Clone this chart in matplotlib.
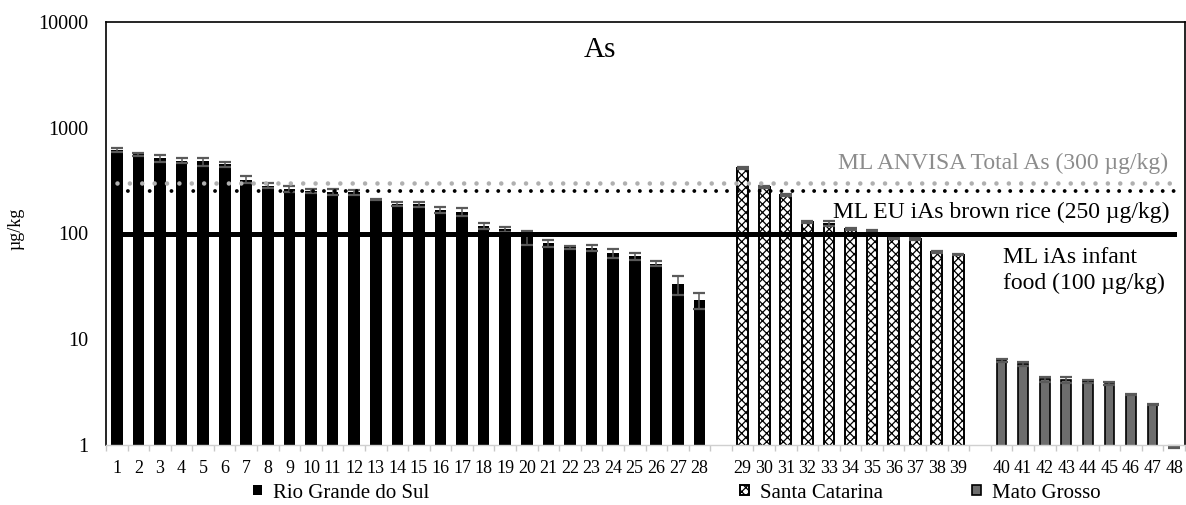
import numpy as np
import matplotlib.pyplot as plt

plt.rcParams['font.family'] = ['Liberation Serif', 'DejaVu Serif']
plt.rcParams['hatch.linewidth'] = 0.9

# Total As per sample (µg/kg), mean and standard deviation
rs_mean = [617, 561, 514, 490, 480, 450, 324, 283, 265, 253, 247, 245, 210, 190,
           190, 167, 161, 118, 110, 92, 81, 74, 73, 65, 61, 52, 33, 23.4]
rs_err = [27, 20, 39, 27, 42, 25, 26, 15, 18, 10, 15, 13, 3, 8,
          10, 12, 14, 8, 6, 14, 6, 3, 5, 6, 5, 3, 7, 4]
sc_mean = [415, 275, 230, 128, 124, 110, 105, 90, 89, 67, 63]
sc_err = [8, 5, 5, 3, 7, 2, 2, 2, 2, 1, 1]
mg_mean = [6.3, 5.8, 4.2, 4.1, 4.0, 3.8, 3.0, 2.4, 0.95]
mg_err = [0.15, 0.27, 0.23, 0.27, 0.15, 0.1, 0.05, 0.03, 0.02]

rs_ids = [str(i) for i in range(1, 29)]
sc_ids = [str(i) for i in range(29, 40)]
mg_ids = [str(i) for i in range(40, 49)]

# maximum limits (µg/kg)
ml_anvisa = 300
ml_eu = 250
ml_infant = 100

# category slots, one empty slot between the states
x_rs = np.arange(len(rs_mean)) + 0.5
x_sc = x_rs[-1] + 2 + np.arange(len(sc_mean))
x_mg = x_sc[-1] + 2 + np.arange(len(mg_mean))
n_slots = int(x_mg[-1] + 0.5)

W, H = 1186, 505
fig = plt.figure(figsize=(W / 100, H / 100), dpi=100)
ax = fig.add_axes([106 / W, 1 - 445 / H, (1185 - 106) / W, (445 - 22) / H])
ax.set_yscale('log')

err_kw = dict(ecolor='#5a5a5a', elinewidth=1.1, capsize=4.3, capthick=1.6)
b_rs = ax.bar(x_rs, rs_mean, width=0.54, color='black', yerr=rs_err,
              error_kw=err_kw, zorder=2)
b_sc = ax.bar(x_sc, sc_mean, width=0.5, color='white', edgecolor='black',
              linewidth=1.4, hatch='xxxx', yerr=sc_err, error_kw=err_kw, zorder=2)
b_mg = ax.bar(x_mg, mg_mean, width=0.45, color='#6d6d6d', edgecolor='black',
              linewidth=1.2, yerr=mg_err, error_kw=dict(err_kw, clip_on=False),
              zorder=2)
for line in b_mg.errorbar.lines[1]:
    line.set_clip_on(False)

# limit lines across all samples
xs = [x_rs[0], x_mg[-1]]
ax.plot(xs, [ml_anvisa] * 2, color='#b0b0b0', lw=3.3,
        linestyle=(0, (0.001, 2.7)), dash_capstyle='round', zorder=3)
ax.plot(xs, [ml_eu] * 2, color='black', lw=2.8,
        linestyle=(0, (0.001, 2.8)), dash_capstyle='round', zorder=3)
ax.plot(xs, [ml_infant] * 2, color='black', lw=3.6, zorder=3)

ax.text(49.2, 464, 'ML ANVISA Total As (300 µg/kg)', ha='right', va='center',
        fontsize=17, color='#8c8c8c')
ax.text(49.3, 160, 'ML EU iAs brown rice (250 µg/kg)', ha='right', va='center',
        fontsize=17, color='black')
ax.text(41.55, 45, 'ML iAs infant\nfood (100 µg/kg)', ha='left', va='center',
        fontsize=17, color='black', linespacing=1.3)
ax.text(0.458, 0.934, 'As', transform=ax.transAxes, ha='center', va='center',
        fontsize=21)

ax.set_xlim(0, n_slots)
ax.set_ylim(1, 10000)
ax.set_xticks(np.concatenate([x_rs, x_sc, x_mg]))
ax.set_xticklabels(rs_ids + sc_ids + mg_ids, fontsize=13)
ax.set_xticks(np.arange(n_slots + 1), minor=True)
ax.tick_params(axis='x', which='major', length=0, pad=11)
ax.tick_params(axis='x', which='minor', length=4, width=1, color='#c8c8c8')
ax.set_yticks([1, 10, 100, 1000, 10000])
ax.set_yticklabels(['1', '10', '100', '1000', '10000'], fontsize=14.5)
ax.yaxis.set_minor_locator(plt.NullLocator())
ax.tick_params(axis='y', length=0, pad=13)
ax.set_ylabel('µg/kg', fontsize=13, labelpad=8)
ax.yaxis.set_label_coords(-82 / 1079, 0.51)

for side in ['top', 'left', 'right']:
    ax.spines[side].set_color('black')
    ax.spines[side].set_linewidth(1.2)
ax.spines['bottom'].set_color('#d0d0d0')
ax.spines['bottom'].set_linewidth(1.0)

# legend entries spread under each state group
leg_kw = dict(loc='center left', frameon=False, fontsize=15, borderpad=0,
              borderaxespad=0, handlelength=0.42, handleheight=0.42,
              handletextpad=0.55)
for handle, name, xpx in [(b_rs, 'Rio Grande do Sul', 253),
                          (b_sc, 'Santa Catarina', 740),
                          (b_mg, 'Mato Grosso', 972)]:
    leg = fig.legend([handle], [name], bbox_to_anchor=(xpx / W, 1 - 493 / H), **leg_kw)

fig.savefig('out.png', dpi=100)
